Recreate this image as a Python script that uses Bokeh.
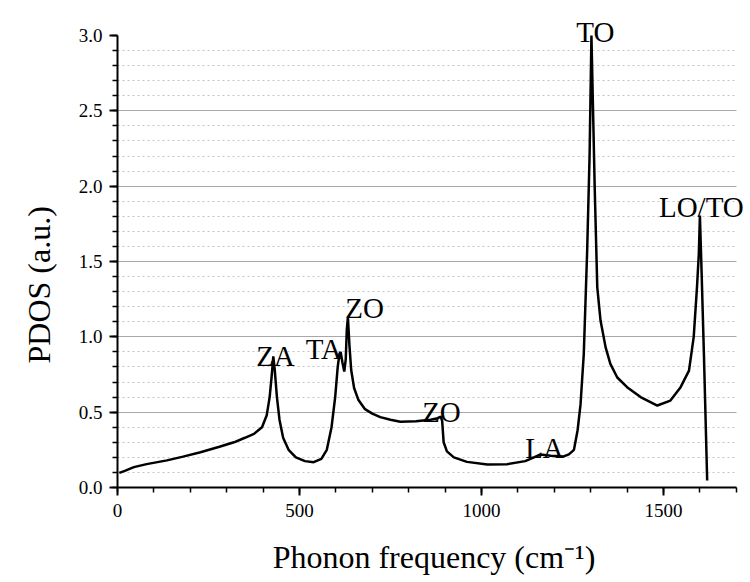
from bokeh.plotting import figure
from bokeh.models import Range1d, FixedTicker, Label, PrintfTickFormatter, Grid, Title
from bokeh.embed import file_html
from bokeh.resources import INLINE

# Phonon frequency (cm^-1) and PDOS (a.u.)
freq = [5, 20, 45, 80, 136, 180, 228, 280, 320, 350,
        375, 397, 410, 418, 424, 428, 432, 438, 445, 455,
        470, 490, 515, 539, 560, 575, 588, 598, 605, 610,
        613, 618, 623, 627, 630, 633, 637, 642, 650, 662,
        680, 700, 722, 750, 777, 820, 860, 880, 888, 892,
        896, 905, 924, 960, 1016, 1070, 1120, 1144, 1162, 1190,
        1226, 1240, 1254, 1264, 1272, 1281, 1290, 1297, 1302, 1307,
        1311, 1318, 1327, 1341, 1354, 1373, 1400, 1437, 1483, 1519,
        1547, 1570, 1583, 1592, 1597, 1600, 1605, 1611, 1620]
pdos = [0.097, 0.11, 0.135, 0.155, 0.18, 0.205, 0.234, 0.27, 0.30, 0.33,
        0.356, 0.40, 0.48, 0.6, 0.75, 0.87, 0.78, 0.6, 0.45, 0.33,
        0.25, 0.2, 0.175, 0.168, 0.19, 0.25, 0.4, 0.6, 0.8, 0.89,
        0.90, 0.83, 0.77, 0.85, 1.05, 1.13, 0.95, 0.78, 0.66, 0.58,
        0.52, 0.49, 0.467, 0.45, 0.437, 0.44, 0.45, 0.46, 0.47, 0.44,
        0.3, 0.24, 0.2, 0.17, 0.153, 0.155, 0.175, 0.2, 0.219, 0.21,
        0.206, 0.22, 0.25, 0.38, 0.55, 0.887, 1.55, 2.21, 3.0, 2.44,
        1.99, 1.33, 1.108, 0.93, 0.82, 0.73, 0.666, 0.60, 0.544, 0.577,
        0.666, 0.776, 1.0, 1.33, 1.55, 1.805, 1.4, 0.887, 0.046]

# Peak labels
peak_names = ["ZA", "TA", "ZO", "ZO", "LA", "TO", "LO/TO"]
peak_x = [434, 567, 679, 890, 1173, 1313, 1604]
peak_y = [0.876, 0.922, 1.19, 0.50, 0.26, 3.02, 1.86]

# axis extents and ticks
x_lim = (0, 1700)
y_lim = (0, 3.0)
x_ticks = [0, 500, 1000, 1500]
x_minor = list(range(0, 1701, 100))
y_ticks = [0.0, 0.5, 1.0, 1.5, 2.0, 2.5, 3.0]
y_minor = [round(i * 0.1, 1) for i in range(0, 31)]
grid_major = [0.5, 1.0, 1.5, 2.0, 2.5]
grid_minor = [v for v in y_minor if 0 < v < 3.0 and round(v * 10) % 5 != 0]

FONT = "Liberation Serif"

p = figure(width=750, height=582, output_backend="svg", toolbar_location=None,
           x_range=Range1d(0, 1739), y_range=Range1d(0, 3.232),
           min_border_left=117, min_border_right=0, min_border_top=0,
           min_border_bottom=95)
p.outline_line_color = None
p.background_fill_color = "white"
p.border_fill_color = "white"

# grid (horizontal only, limited to the axis extent)
p.xgrid.visible = False
p.ygrid.visible = False
g = Grid(dimension=1, ticker=FixedTicker(ticks=grid_major, minor_ticks=grid_minor),
         grid_line_color="#a8a8a8", grid_line_width=1,
         minor_grid_line_color="#c4c4c4", minor_grid_line_dash="2 3",
         minor_grid_line_width=1)
if "cross_bounds" in Grid.properties():
    g.cross_bounds = x_lim
    p.add_layout(g)
else:
    p.segment(x0=[x_lim[0]] * len(grid_minor), x1=[x_lim[1]] * len(grid_minor),
              y0=grid_minor, y1=grid_minor, line_color="#c4c4c4",
              line_dash="2 3", line_width=1)
    p.segment(x0=[x_lim[0]] * len(grid_major), x1=[x_lim[1]] * len(grid_major),
              y0=grid_major, y1=grid_major, line_color="#a8a8a8", line_width=1)

p.line(freq, pdos, line_color="black", line_width=2.5)

# axes
xa = p.xaxis[0]
ya = p.yaxis[0]
xa.ticker = FixedTicker(ticks=x_ticks, minor_ticks=x_minor)
ya.ticker = FixedTicker(ticks=y_ticks, minor_ticks=y_minor)
xa.bounds = x_lim
ya.bounds = y_lim
xa.formatter = PrintfTickFormatter(format="%d")
ya.formatter = PrintfTickFormatter(format="%.1f")
for ax in (xa, ya):
    ax.axis_line_width = 2
    ax.axis_line_color = "black"
    ax.major_tick_line_width = 2
    ax.minor_tick_line_width = 1.5
    ax.major_tick_line_color = "black"
    ax.minor_tick_line_color = "black"
    ax.major_tick_out = 8
    ax.major_tick_in = 0
    ax.minor_tick_out = 5
    ax.minor_tick_in = 0
    ax.major_label_text_font = FONT
    ax.major_label_text_font_style = "normal"
    ax.major_label_text_font_size = "19px"
    ax.major_label_text_color = "black"
    ax.axis_label_text_font = FONT
    ax.axis_label_text_font_size = "32px"
    ax.axis_label_text_font_style = "normal"
    ax.axis_label_text_color = "black"

xa.axis_label = "Phonon frequency (cm\u207b\u00b9)"
ya.axis_label = None
xa.major_label_standoff = 8
ya.major_label_standoff = 7
xa.axis_label_standoff = 19

# y-axis title, placed in the left panel
ytitle = Title(text="PDOS (a.u.)", align="left", vertical_align="top",
               offset=124, standoff=34, text_font=FONT, text_font_size="32px",
               text_font_style="normal", text_color="black")
p.add_layout(ytitle, "left")

for name, xv, yv in zip(peak_names, peak_x, peak_y):
    p.add_layout(Label(x=xv, y=yv, text=name, text_align="center",
                       text_baseline="alphabetic", text_font=FONT,
                       text_font_size="29px", text_color="black"))

open("out.html", "w").write(file_html(p, INLINE))
